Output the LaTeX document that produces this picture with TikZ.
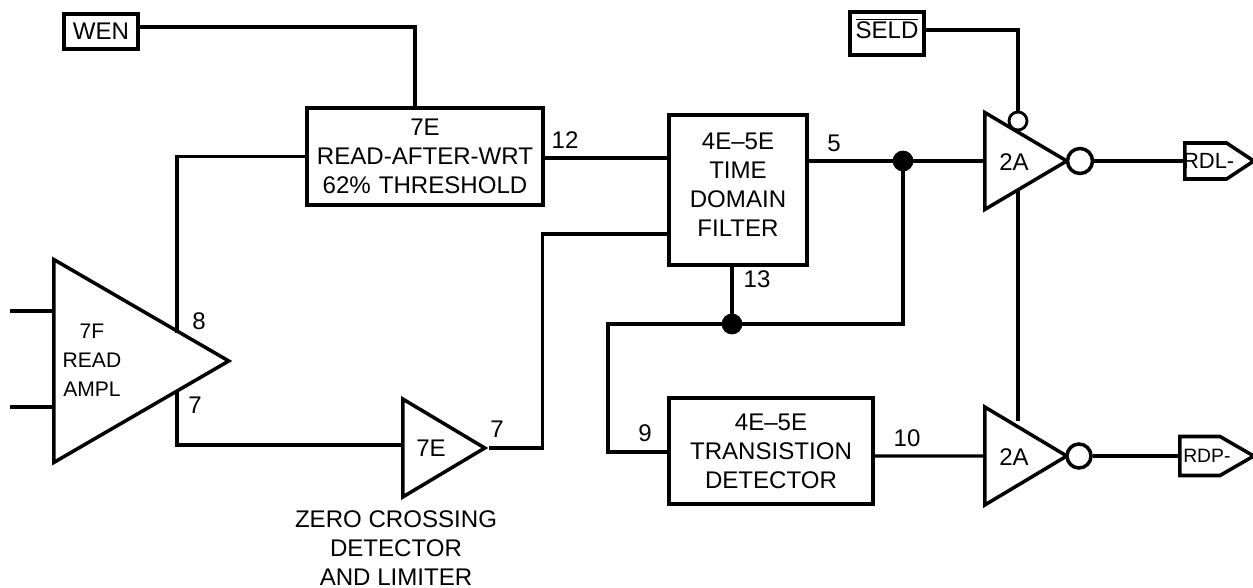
\documentclass[tikz,border=0pt]{standalone}
\usepackage{fontspec}
\setmainfont{Liberation Sans}
\usetikzlibrary{shapes.geometric, shapes.symbols, positioning}

\tikzset{
	wire/.style={line width=1.9pt, line join=miter},
	block/.style={draw, rectangle, line width=2pt, align=center, inner sep=0pt, font=\fontsize{13.7}{16.5}\selectfont},
	gate/.style={draw, isosceles triangle, isosceles triangle stretches, line width=2pt, inner sep=0pt, anchor=lower side},
	bubble/.style={draw, circle, inner sep=0pt, fill=white},
	tag/.style={draw, signal, signal to=east, line width=2pt, inner sep=0pt, anchor=west},
	txt/.style={align=center, inner sep=0pt, font=\fontsize{13.7}{16.5}\selectfont},
	pin/.style={inner sep=0pt, font=\fontsize{13.7}{16}\selectfont},
	joint/.style={draw, circle, fill=black, inner sep=0pt, minimum size=0.4cm}
}

\begin{document}
\begin{tikzpicture}
	\useasboundingbox (0, 0) rectangle (25.06, -11.76);
	\node[block, minimum width=1.48cm, minimum height=0.7cm] (wen) at (2.02, -0.63) {WEN};
	\node[block, minimum width=1.48cm, minimum height=0.86cm] (seld) at (17.74, -0.67) {};
	\node[block, minimum width=4.72cm, minimum height=1.94cm] (raw) at (8.5, -3.13) {7E\\READ-AFTER-WRT\\62\%\,\,THRESHOLD};
	\node[block, minimum width=2.76cm, minimum height=3cm, label={[name=l_tdf, txt, yshift=0.1cm]center:4E--5E\\TIME\\DOMAIN\\FILTER}] (tdf) at (14.76, -3.8) {};
	\node[block, minimum width=4.08cm, minimum height=2.12cm] (trans) at (15.42, -9.02) {4E--5E\\TRANSISTION\\DETECTOR};

	% triangles
	\node[gate, minimum height=3.5cm, minimum width=4.06cm] (ampl) at (1.04, -7.22) {};
	\node[gate, minimum height=1.64cm, minimum width=1.96cm] (zcd) at (8.02, -8.96) {};
	\node[gate, minimum height=1.64cm, minimum width=1.94cm] (gtop) at (19.66, -3.22) {};
	\node[gate, minimum height=1.64cm, minimum width=1.96cm] (gbot) at (19.66, -9.12) {};
	\node[bubble, line width=2pt, minimum size=0.5cm] (otop) at (21.6, -3.22) {};
	\node[bubble, line width=2pt, minimum size=0.48cm] (obot) at (21.58, -9.12) {};
	\node[bubble, line width=1.6pt, minimum size=0.36cm] (en) at (20.36, -2.42) {};
	\node[tag, minimum width=1.38cm, minimum height=0.72cm, signal pointer angle=67, label={[name=l_rdl, pin, font=\fontsize{12.5}{14}\selectfont, xshift=0.06cm]center:RDL-}] (rdl) at (23.66, -3.22) {};
	\node[tag, minimum width=1.48cm, minimum height=0.78cm, signal pointer angle=60, label={[name=l_rdp, pin, font=\fontsize{11}{13}\selectfont, xshift=0.14cm]center:RDP-}] (rdp) at (23.56, -9.12) {};

	\node[joint] (jtop) at (18.06, -3.22) {};
	\node[joint] (jmid) at (14.64, -6.48) {};
	\node[pin, anchor=base] (l_seld) at (17.74, -0.78) {$\overline{\mbox{SELD}}$};
	\coordinate (in1) at (0.2, -6.22);
	\coordinate (in2) at (0.2, -8.14);
	\coordinate (ampltop) at (3.54, -6.66);
	\coordinate (amplbot) at (3.54, -7.8);
	\coordinate (turn) at (12.16, -6.48);

	% connectors
	\draw[wire] ([yshift=0.09cm]wen.east) -| ([xshift=-0.2cm]raw.north);
	\draw[wire] ([yshift=0.07cm]seld.east) -| (en.north);
	\draw[wire] (raw.west) -| (ampltop);
	\draw[wire] (amplbot) |- ([yshift=0.06cm]zcd.lower side);
	\draw[wire] (zcd.apex) -- ++(1.06, 0) |- ([yshift=-0.88cm]tdf.west);
	\draw[wire] ([yshift=-0.03cm]raw.east) -- ([yshift=0.64cm]tdf.west);
	\draw[wire] ([yshift=0.58cm]tdf.east) -- (gtop.lower side);
	\draw[wire] (jtop) |- (jmid);
	\draw[wire] (jmid) -- (turn) |- ([yshift=-0.02cm]trans.west);
	\draw[wire] (jmid) -- (jmid |- tdf.south);
	\draw[wire] ([yshift=-0.1cm]trans.east) -- (gbot.lower side);
	\draw[wire] (otop) -- (rdl.west);
	\draw[wire] (obot) -- (rdp.west);
	\draw[wire] (in1) -- (in1 -| ampl.lower side);
	\draw[wire] (in2) -- (in2 -| ampl.lower side);
	\draw[wire] (20.36, -3.8) -- (20.36, -8.42);

	% labels
	\node[txt, font=\fontsize{12}{16.5}\selectfont] (l_ampl) at (1.84, -7.2) {7F\\READ\\AMPL};
	\node[txt] (l_zcd) at (8.62, -8.96) {7E};
	\node[txt] (l_gtop) at (20.28, -3.24) {2A};
	\node[txt] (l_gbot) at (20.28, -9.14) {2A};
	\node[txt] (l_zero) at (7.92, -10.96) {ZERO CROSSING\\DETECTOR\\AND LIMITER};
	\node[pin] (p12) at (11.3, -2.8) {12};
	\node[pin] (p5) at (16.68, -2.86) {5};
	\node[pin] (p13) at (15.14, -5.58) {13};
	\node[pin] (p9) at (12.9, -8.66) {9};
	\node[pin] (p10) at (18.14, -8.76) {10};
	\node[pin] (p7c) at (9.94, -8.58) {7};
	\node[pin] (p8) at (3.98, -6.42) {8};
	\node[pin] (p7a) at (3.9, -8.1) {7};
\end{tikzpicture}
\end{document}
